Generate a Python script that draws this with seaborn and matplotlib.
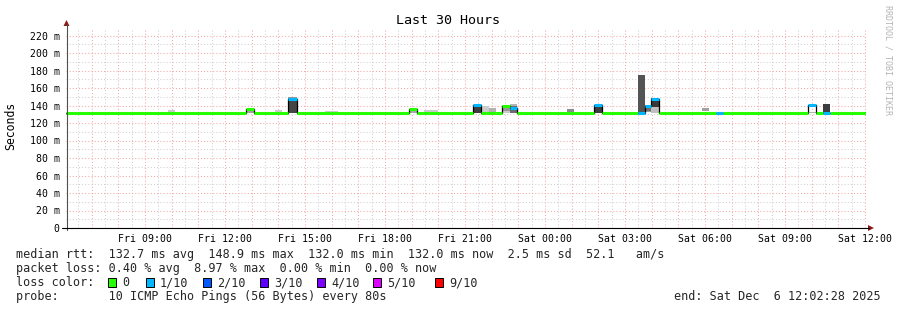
import numpy as np
import pandas as pd
import matplotlib
matplotlib.use("Agg")
import matplotlib.pyplot as plt
from matplotlib.patches import Rectangle, Polygon
from matplotlib.lines import Line2D
import seaborn as sns

# ---------------- data ----------------
# time in hours since Fri 00:00 (Sat = 24 + h)
t_start = 6 + 2 / 60 + 28 / 3600          # Fri 06:02:28
t_end = t_start + 30                      # Sat 12:02:28
base_median = 132.0                        # ms

# intervals where the median differs from the baseline or shows loss
med_t0 = [12.79, 14.37, 18.90, 21.30, 22.39, 22.69, 25.84, 27.49, 27.75, 27.98, 30.42, 33.87, 34.43]
med_t1 = [13.09, 14.70, 19.20, 21.60, 22.69, 22.95, 26.14, 27.75, 27.98, 28.28, 30.68, 34.17, 34.69]
med_val = [136.0, 147.0, 135.5, 141.0, 139.5, 137.5, 141.0, 132.0, 139.0, 148.0, 132.0, 141.0, 132.0]
med_loss = [0, 1, 0, 1, 0, 1, 1, 1, 1, 1, 1, 1, 1]

# smoke (ping spread) bands; grey = darkness of the smoke (0 black, 1 white)
smoke_t0 = [9.87, 12.79, 13.88, 14.37, 14.37, 15.75, 18.90, 19.46, 21.30, 21.60, 21.90,
            22.39, 22.39, 22.69, 22.69, 24.83, 25.84, 27.49, 27.75, 27.75, 27.98, 27.98,
            29.89, 33.87, 34.43]
smoke_t1 = [10.13, 13.09, 14.14, 14.70, 14.70, 16.24, 19.20, 19.99, 21.60, 21.90, 22.17,
            22.69, 22.69, 22.95, 22.95, 25.09, 26.14, 27.75, 27.98, 27.98, 28.28, 28.28,
            30.15, 34.17, 34.69]
smoke_lo = [132.5, 132.0, 132.5, 132.0, 132.0, 132.5, 132.0, 132.5, 132.0, 132.0, 132.0,
            132.0, 134.0, 132.0, 132.0, 133.0, 132.0, 132.0, 133.0, 134.0, 132.0, 138.0,
            134.0, 131.5, 132.0]
smoke_hi = [134.5, 135.0, 134.5, 150.0, 146.0, 134.0, 135.0, 134.5, 140.0, 139.0, 137.0,
            141.0, 138.5, 142.0, 139.0, 136.5, 140.0, 174.5, 141.0, 138.0, 138.0, 149.0,
            137.0, 133.0, 142.0]
smoke_grey = [0.80, 0.63, 0.80, 0.60, 0.27, 0.80, 0.66, 0.80, 0.24, 0.80, 0.70,
              0.80, 0.60, 0.71, 0.42, 0.55, 0.24, 0.33, 0.60, 0.44, 0.75, 0.22,
              0.63, 0.70, 0.24]

loss_colors = ["#26ff00", "#00b8ff", "#0059ff", "#5e00ff", "#7e00ff", "#dd00ff", "#ff0000"]
loss_labels = ["0", "1/10", "2/10", "3/10", "4/10", "5/10", "9/10"]

y_ticks = list(range(0, 221, 20))
y_tick_labels = ["0"] + [f"{v} m" for v in y_ticks[1:]]
x_label_hours = list(range(9, 37, 3))
x_tick_labels = [("Fri" if h < 24 else "Sat") + f" {h % 24:02d}:00" for h in x_label_hours]

title = "Last 30 Hours"
line_rtt = "median rtt:  132.7 ms avg  148.9 ms max  132.0 ms min  132.0 ms now  2.5 ms sd  52.1   am/s"
line_loss = "packet loss: 0.40 % avg  8.97 % max  0.00 % min  0.00 % now"
line_color = "loss color:"
line_probe = "probe:       10 ICMP Echo Pings (56 Bytes) every 80s"
line_end = "end: Sat Dec  6 12:02:28 2025"

# ---------------- build series ----------------
segs = []
cur = t_start
for a, b, m, l in zip(med_t0, med_t1, med_val, med_loss):
    if a > cur + 1e-9:
        segs.append((cur, a, base_median, 0))
    segs.append((a, b, m, l))
    cur = b
if cur < t_end:
    segs.append((cur, t_end, base_median, 0))

step_df = pd.DataFrame({
    "t": [s[0] for s in segs] + [t_end],
    "rtt": [s[2] for s in segs] + [segs[-1][2]],
})

# ---------------- figure ----------------
sns.set_theme(style="white")
plt.rcParams["font.family"] = ["DejaVu Sans Mono", "DejaVu Sans"]

W, H, DPI = 897, 310, 100
fig = plt.figure(figsize=(W / DPI, H / DPI), dpi=DPI, facecolor="white")


def fx(x):
    return x / W


def fy(y):
    return 1 - y / H


X0, X1, Y0, Y1 = 66, 866, 228, 28
ax = fig.add_axes([fx(X0), fy(Y0), (X1 - X0) / W, (Y0 - Y1) / H])
ax.set_facecolor("white")
ax.set_xlim(t_start, t_end)
ax.set_ylim(0, 200 / 0.875)

# grid
ax.set_xticks(list(range(7, 37)))
ax.set_xticklabels([x_tick_labels[x_label_hours.index(h)] if h in x_label_hours else "" for h in range(7, 37)])
ax.set_xticks([h + 0.5 for h in range(6, 36)], minor=True)
ax.set_yticks(y_ticks)
ax.set_yticklabels(y_tick_labels)
ax.set_yticks(list(range(10, 221, 20)), minor=True)
ax.grid(which="major", color="#f4a8a8", linestyle=(0, (1, 2)), linewidth=0.75, zorder=0)
ax.grid(which="minor", color="#d0d0d0", linestyle=(0, (1, 2)), linewidth=0.75, zorder=0)
ax.set_axisbelow(True)
ax.tick_params(axis="x", which="both", length=0, pad=4, labelsize=7.1, colors="black")
ax.tick_params(axis="y", which="major", length=1.5, pad=3.0, labelsize=7.1, colors="black", width=0.7)
ax.tick_params(axis="y", which="minor", length=0)
ax.tick_params(axis="y", which="major", color="#505050")
for sp in ax.spines.values():
    sp.set_visible(False)

# smoke
ax.bar(smoke_t0, np.subtract(smoke_hi, smoke_lo), width=np.subtract(smoke_t1, smoke_t0),
       bottom=smoke_lo, align="edge", color=[str(g) for g in smoke_grey], linewidth=0, zorder=2)

# median outline (black step)
sns.lineplot(data=step_df, x="t", y="rtt", drawstyle="steps-post", estimator=None, sort=False,
             color="black", linewidth=0.9, ax=ax, zorder=3)

# median colored by loss
for li, col in enumerate(loss_colors):
    sel = [s for s in segs if s[3] == li]
    if sel:
        lc = ax.hlines([s[2] for s in sel], [s[0] for s in sel], [s[1] for s in sel],
                       colors=col, linewidth=2.2, zorder=4)
        lc.set_capstyle("butt")
ax.set_xlabel("")
ax.set_ylabel("")

# axes lines + arrows
fig.add_artist(Line2D([fx(66.5), fx(66.5)], [fy(230), fy(24)], color="#505050", lw=0.8))
fig.add_artist(Line2D([fx(62), fx(869)], [fy(228), fy(228)], color="black", lw=0.8))
fig.add_artist(Polygon([(fx(63.5), fy(26)), (fx(69.5), fy(26)), (fx(66.5), fy(20))],
                       closed=True, color="#8b1a1a", lw=0))
fig.add_artist(Polygon([(fx(868), fy(225)), (fx(868), fy(231)), (fx(874), fy(228))],
                       closed=True, color="#8b1a1a", lw=0))

# texts
fig.text(fx(448), fy(24.5), title, ha="center", va="baseline", fontsize=9.6, color="black")
fig.text(fx(11), fy(126), "Seconds", rotation=90, ha="center", va="center", fontsize=8.3, color="black")
fig.text(fx(887.5), fy(60), "RRDTOOL / TOBI OETIKER", rotation=270, ha="center", va="center",
         fontsize=6.0, color="#b4b4b4")

LF = 8.5
fig.text(fx(16), fy(258.3), line_rtt, ha="left", va="baseline", fontsize=LF)
fig.text(fx(16), fy(272.3), line_loss, ha="left", va="baseline", fontsize=LF)
fig.text(fx(16), fy(286.3), line_color, ha="left", va="baseline", fontsize=LF)
fig.text(fx(16), fy(300.3), line_probe, ha="left", va="baseline", fontsize=LF)
fig.text(fx(881), fy(300.3), line_end, ha="right", va="baseline", fontsize=LF)

sw_x = [108, 146, 203, 260, 317, 373, 435]
for x, col, lab in zip(sw_x, loss_colors, loss_labels):
    fig.add_artist(Rectangle((fx(x), fy(286.5)), 8 / W, 8.5 / H, transform=fig.transFigure,
                             facecolor=col, edgecolor="black", linewidth=0.7))
    fig.text(fx(x + 14), fy(286.3), lab, ha="left", va="baseline", fontsize=LF)

fig.savefig("out.png", dpi=DPI, facecolor="white")
